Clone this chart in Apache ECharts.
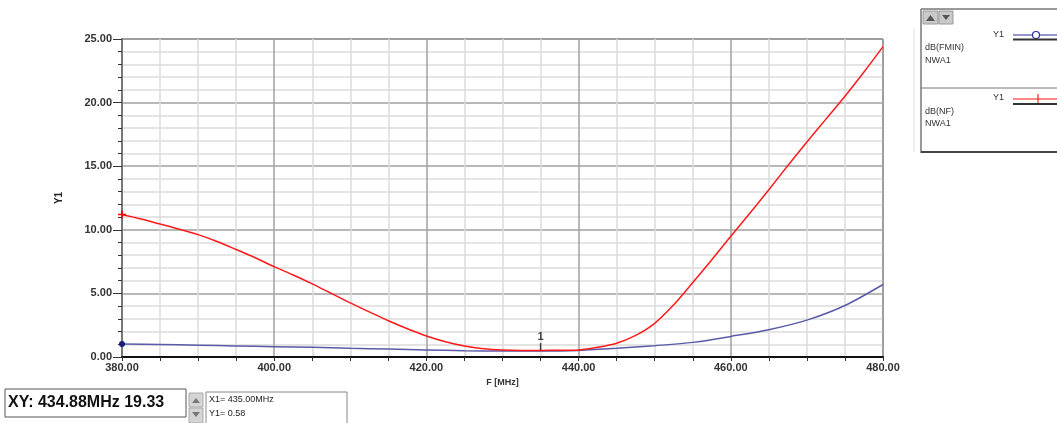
<!DOCTYPE html>
<html>
<head>
<meta charset="utf-8">
<script src="https://cdn.jsdelivr.net/npm/echarts@6/dist/echarts.min.js"></script>
<style>
html,body{margin:0;padding:0;background:#fff;}
#chart{width:1057px;height:423px;}
</style>
</head>
<body>
<div id="chart"></div>
<script>
// ---- data ----
var nfFreq = [380,382.5,385,387.5,390,392.5,395,397.5,400,402.5,405,407.5,410,412.5,415,417.5,420,422.5,425,427.5,430,432.5,435,437.5,440,442.5,445,447.5,450,452.5,455,457.5,460,462.5,465,467.5,470,472.5,475,477.5,480];
var nfValues = [11.2,10.85,10.45,10.05,9.62,9.08,8.45,7.8,7.1,6.45,5.75,5.0,4.25,3.55,2.85,2.22,1.65,1.2,0.86,0.65,0.55,0.52,0.52,0.53,0.56,0.76,1.08,1.7,2.65,4.1,5.85,7.65,9.5,11.3,13.15,15.05,16.9,18.7,20.5,22.4,24.4];
var fminFreq = [380,385,390,395,400,405,410,415,420,425,430,435,440,445,450,455,460,465,470,475,480];
var fminValues = [1.02,0.98,0.93,0.87,0.81,0.76,0.68,0.62,0.56,0.5,0.47,0.47,0.52,0.68,0.89,1.15,1.62,2.15,2.9,4.05,5.7];
var marker = {x: 435, y: 0.58, name: '1'};
var xTicks = {min: 380, max: 480, step: 20};
var yTicks = {min: 0, max: 25, step: 5};
var legendNames = ['dB(FMIN)', 'dB(NF)'];
var sourceName = 'NWA1';
var readout = 'XY: 434.88MHz 19.33';
var markerText = ['X1= 435.00MHz', 'Y1= 0.58'];

function pairs(xs, ys, firstSym, firstSize, firstColor) {
  return xs.map(function (x, i) {
    if (i === 0) {
      return {value: [x, ys[i]], symbol: firstSym, symbolSize: firstSize, itemStyle: {color: firstColor}};
    }
    return {value: [x, ys[i]], symbol: 'none'};
  });
}

var chart = echarts.init(document.getElementById('chart'), null, {renderer: 'canvas'});
var lblFont = {color: '#333', fontFamily: 'Liberation Sans, Arial, sans-serif', fontWeight: 'bold', fontSize: 11};
var plusPath = 'path://M4,0H6V10H4ZM0,4H10V6H0Z';

var option = {
  backgroundColor: '#fff',
  animation: false,
  grid: {left: 122, right: 174, top: 39, bottom: 66, show: true, borderColor: '#333', borderWidth: 1, backgroundColor: 'transparent'},
  xAxis: {
    type: 'value', min: xTicks.min, max: xTicks.max, interval: xTicks.step,
    name: 'F [MHz]', nameLocation: 'middle', nameGap: 19,
    nameTextStyle: {color: '#333', fontFamily: 'Liberation Sans, Arial, sans-serif', fontWeight: 'bold', fontSize: 9},
    axisLine: {show: true, onZero: false, lineStyle: {color: '#111', width: 2}},
    axisTick: {show: true, length: 4, lineStyle: {color: '#333'}},
    minorTick: {show: true, splitNumber: 4, length: 4, lineStyle: {color: '#333'}},
    axisLabel: Object.assign({margin: 5, formatter: function (v) { return v.toFixed(2); }}, lblFont),
    splitLine: {show: true, lineStyle: {color: '#a0a0a0', width: 1.5}},
    minorSplitLine: {show: true, lineStyle: {color: '#dcdcdc', width: 1.5}}
  },
  yAxis: {
    type: 'value', min: yTicks.min, max: yTicks.max, interval: yTicks.step,
    name: 'Y1', nameLocation: 'middle', nameGap: 58, nameRotate: 90,
    nameTextStyle: {color: '#222', fontFamily: 'Liberation Sans, Arial, sans-serif', fontWeight: 'bold', fontSize: 10},
    axisLine: {show: true, lineStyle: {color: '#777', width: 2}},
    axisTick: {show: true, length: 9, lineStyle: {color: '#333'}},
    minorTick: {show: true, splitNumber: 5, length: 4, lineStyle: {color: '#333'}},
    axisLabel: Object.assign({margin: 10, formatter: function (v) { return v.toFixed(2); }}, lblFont),
    splitLine: {show: true, lineStyle: {color: '#a0a0a0', width: 1.5}},
    minorSplitLine: {show: true, lineStyle: {color: '#dcdcdc', width: 1.5}}
  },
  series: [
    {
      name: legendNames[0], type: 'line', showSymbol: true, symbol: 'none', smooth: 0.3,
      lineStyle: {color: '#5a5aa8', width: 1.5}, itemStyle: {color: '#1c1c80'},
      data: pairs(fminFreq, fminValues, 'circle', 6, '#1c1c80'), z: 3
    },
    {
      name: legendNames[1], type: 'line', showSymbol: true, symbol: 'none', smooth: 0.3,
      lineStyle: {color: '#ff1a1a', width: 1.5}, itemStyle: {color: '#ff0000'},
      data: pairs(nfFreq, nfValues, plusPath, 8, '#ff0000'), z: 4
    },
    {
      name: 'marker', type: 'scatter', symbol: 'rect', symbolSize: [1.5, 7], symbolOffset: [0, -3],
      itemStyle: {color: '#111'}, z: 5,
      label: {show: true, position: 'top', distance: 1, formatter: marker.name, color: '#111', fontSize: 11, fontWeight: 'bold', fontFamily: 'Liberation Sans, Arial, sans-serif'},
      data: [[marker.x, marker.y]]
    }
  ],
  graphic: [
    // legend panel
    {type: 'line', shape: {x1: 914, y1: 28, x2: 914, y2: 152}, style: {stroke: '#e0e0e0', lineWidth: 1}},
    {type: 'line', shape: {x1: 921, y1: 9, x2: 1057, y2: 9}, style: {stroke: '#777', lineWidth: 1.5}},
    {type: 'line', shape: {x1: 921, y1: 9, x2: 921, y2: 153}, style: {stroke: '#777', lineWidth: 1.5}},
    {type: 'line', shape: {x1: 921, y1: 88, x2: 1057, y2: 88}, style: {stroke: '#777', lineWidth: 1}},
    {type: 'line', shape: {x1: 921, y1: 152, x2: 1057, y2: 152}, style: {stroke: '#444', lineWidth: 2}},
    {type: 'rect', shape: {x: 923, y: 11, width: 15, height: 13}, style: {fill: '#c9c9c9', stroke: '#999', lineWidth: 1}},
    {type: 'rect', shape: {x: 939, y: 11, width: 14, height: 13}, style: {fill: '#c9c9c9', stroke: '#999', lineWidth: 1}},
    {type: 'polygon', shape: {points: [[926, 21], [935, 21], [930.5, 15]]}, style: {fill: '#555'}},
    {type: 'polygon', shape: {points: [[942, 15], [950, 15], [946, 20]]}, style: {fill: '#555'}},
    {type: 'text', x: 1004, y: 35, style: {text: 'Y1', fill: '#333', font: '9px Liberation Sans, Arial, sans-serif', align: 'right', verticalAlign: 'middle'}},
    {type: 'line', shape: {x1: 1013, y1: 35, x2: 1057, y2: 35}, style: {stroke: '#2a2aa0', lineWidth: 1}},
    {type: 'circle', shape: {cx: 1036, cy: 35, r: 3.5}, style: {fill: '#fff', stroke: '#2a2aa0', lineWidth: 1.2}},
    {type: 'line', shape: {x1: 1013, y1: 39.5, x2: 1057, y2: 39.5}, style: {stroke: '#333', lineWidth: 2}},
    {type: 'text', x: 925, y: 48, style: {text: legendNames[0], fill: '#333', font: '9px Liberation Sans, Arial, sans-serif', verticalAlign: 'middle'}},
    {type: 'text', x: 925, y: 61, style: {text: sourceName, fill: '#333', font: '9px Liberation Sans, Arial, sans-serif', verticalAlign: 'middle'}},
    {type: 'text', x: 1004, y: 98, style: {text: 'Y1', fill: '#333', font: '9px Liberation Sans, Arial, sans-serif', align: 'right', verticalAlign: 'middle'}},
    {type: 'line', shape: {x1: 1013, y1: 99, x2: 1057, y2: 99}, style: {stroke: '#ff6060', lineWidth: 1.5}},
    {type: 'line', shape: {x1: 1038, y1: 94, x2: 1038, y2: 103}, style: {stroke: '#ff0000', lineWidth: 1}},
    {type: 'line', shape: {x1: 1013, y1: 104, x2: 1057, y2: 104}, style: {stroke: '#333', lineWidth: 2}},
    {type: 'text', x: 925, y: 112, style: {text: legendNames[1], fill: '#333', font: '9px Liberation Sans, Arial, sans-serif', verticalAlign: 'middle'}},
    {type: 'text', x: 925, y: 124, style: {text: sourceName, fill: '#333', font: '9px Liberation Sans, Arial, sans-serif', verticalAlign: 'middle'}},
    // bottom readout boxes
    {type: 'rect', shape: {x: 5, y: 389, width: 181, height: 28}, style: {fill: '#fff', stroke: '#555', lineWidth: 1}},
    {type: 'text', x: 8, y: 403, style: {text: readout, fill: '#111', font: 'bold 16px Liberation Sans, Arial, sans-serif', verticalAlign: 'middle'}},
    {type: 'rect', shape: {x: 189, y: 393, width: 14, height: 14}, style: {fill: '#d4d4d4', stroke: '#aaa', lineWidth: 1}},
    {type: 'rect', shape: {x: 189, y: 408, width: 14, height: 15}, style: {fill: '#d4d4d4', stroke: '#aaa', lineWidth: 1}},
    {type: 'polygon', shape: {points: [[192, 403], [200, 403], [196, 398]]}, style: {fill: '#777'}},
    {type: 'polygon', shape: {points: [[192, 412], [200, 412], [196, 417]]}, style: {fill: '#777'}},
    {type: 'rect', shape: {x: 206, y: 392, width: 141, height: 34}, style: {fill: '#fff', stroke: '#888', lineWidth: 1}},
    {type: 'text', x: 209, y: 400, style: {text: markerText[0], fill: '#222', font: '9px Liberation Sans, Arial, sans-serif', verticalAlign: 'middle'}},
    {type: 'text', x: 209, y: 414, style: {text: markerText[1], fill: '#222', font: '9px Liberation Sans, Arial, sans-serif', verticalAlign: 'middle'}}
  ]
};
chart.setOption(option);
</script>
</body>
</html>
